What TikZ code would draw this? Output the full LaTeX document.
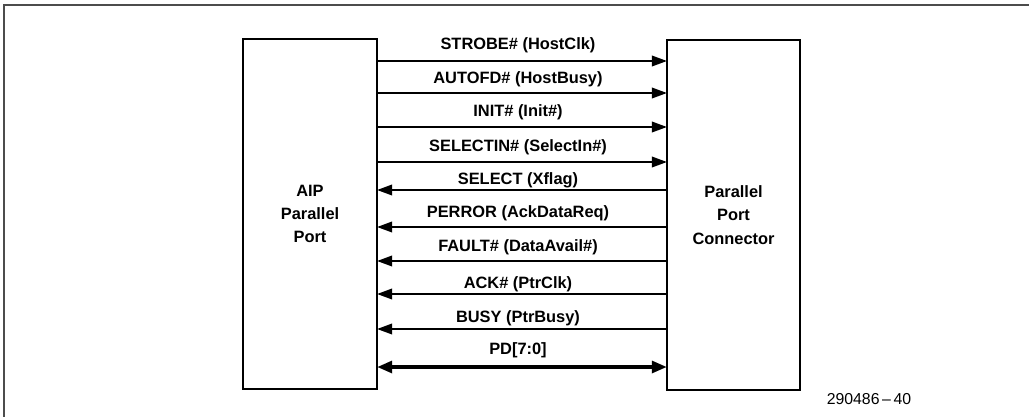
\documentclass[tikz,border=0pt]{standalone}
\usepackage{fontspec}
\setmainfont{Liberation Sans}
\usetikzlibrary{arrows.meta}
\tikzset{
  pxgrid/.style={x=0.03cm,y=-0.03cm,font=\bfseries\fontsize{14}{20}\selectfont},
  portbox/.style={draw,line width=2.3pt,outer sep=0pt,inner sep=0pt,minimum height=10.5cm,align=center},
  sigout/.style={line width=1.9pt,-{Triangle[length=13pt,width=9pt]}},
  sigin/.style={line width=1.9pt,{Triangle[length=13pt,width=9pt]}-},
  sigbus/.style={line width=3.3pt,{Triangle[length=13pt,width=10pt]}-{Triangle[length=13pt,width=10pt]}},
  siglabel/.style={inner sep=0pt},
  framerule/.style={black!70,line width=1.2pt}
}

\begin{document}
\begin{tikzpicture}[pxgrid]
    \useasboundingbox (0,0) rectangle (1029,417);
    \draw[framerule] (1029,5) -- (4,5) -- (4,417);
    \node[portbox,minimum width=4.02cm] (aip) at (310,214) {AIP\\Parallel\\Port};
    \node[portbox,minimum width=3.99cm] (ppc) at (733.5,215) {Parallel\\Port\\Connector};
    \foreach \ya/\yl/\sig/\dir in {61/45/STROBE\# (HostClk)/sigout,
        93/79/AUTOFD\# (HostBusy)/sigout,
        127/112/INIT\# (Init\#)/sigout,
        162/147/SELECTIN\# (SelectIn\#)/sigout,
        190/180/SELECT (Xflag)/sigin,
        227/213/PERROR (AckDataReq)/sigin,
        261/247/FAULT\# (DataAvail\#)/sigin,
        294/284/ACK\# (PtrClk)/sigin,
        329/318/BUSY (PtrBusy)/sigin,
        367/350/PD[7:0]/sigbus} {
      \draw[\dir] (aip.east |- 0,\ya) -- (ppc.west |- 0,\ya);
      \node[siglabel] (lbl\ya) at (518,\yl) {\sig};
    }
    \node[font=\fontsize{13.5}{16}\selectfont] (figno) at (869,399) {290486\,--\,40};
\end{tikzpicture}
\end{document}
